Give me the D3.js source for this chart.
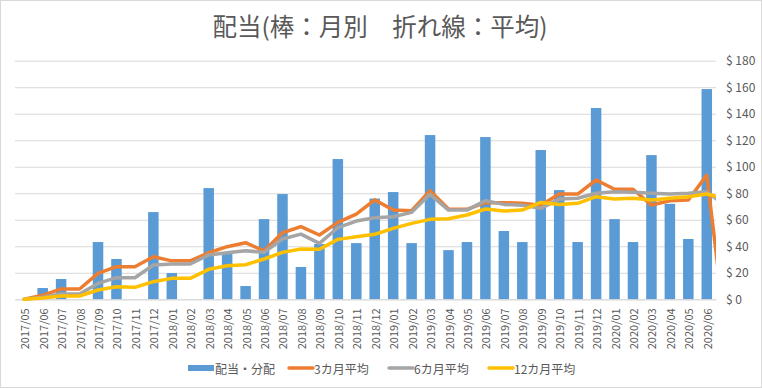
<!DOCTYPE html>
<html><head><meta charset="utf-8">
<script src="https://cdn.jsdelivr.net/npm/d3@7"></script>
<style>body{margin:0;background:#fff}svg{display:block}</style>
</head><body><svg id="c" width="762" height="388"></svg>
<script>
const categories = ["2017/05","2017/06","2017/07","2017/08","2017/09","2017/10","2017/11","2017/12",
  "2018/01","2018/02","2018/03","2018/04","2018/05","2018/06","2018/07","2018/08","2018/09","2018/10","2018/11","2018/12",
  "2019/01","2019/02","2019/03","2019/04","2019/05","2019/06","2019/07","2019/08","2019/09","2019/10","2019/11","2019/12",
  "2020/01","2020/02","2020/03","2020/04","2020/05","2020/06"];
const dividends = [0,8.5,15.3,0,43.2,30.4,0,65.8,19.8,0,83.9,35,10,60.5,79.4,24.4,41.7,105.8,42.4,76,
  80.9,42.4,123.9,37.1,43.2,122.4,51.5,43.2,112.6,82.4,43.2,144.3,60.5,43.2,108.8,72,45.5,158.6];
// averages include one trailing point (next month) that runs off the plot edge
const avg3 = [0,3,7.8,7.8,19.6,24.6,24.6,32.1,29,29,35.1,39.7,42.7,36.5,50.2,54.8,48.5,58,64.3,75,
  67.3,66.8,81.9,68.1,67.9,72.9,72.9,72.4,70.9,79.4,79.4,90,83,83,71.1,74.4,74.9,93.7,-22];
const avg6 = [0,1.5,4,4,12,16.3,16.3,25.9,26.6,26.6,33.4,35.1,36.7,35.4,45.5,49.2,42.2,54,59,61.5,
  62.3,65.6,79.2,67.3,67.3,74.4,71.6,70.9,68.6,75.6,76.2,80,81.1,80.7,80,79.4,80,81.1,71];
const avg12 = [0,1,2.5,2.5,7,9.5,9,13.3,15.8,15.8,22.6,25.3,26.1,30.4,35.4,37.9,37.7,45.2,47.2,49,
  53.5,57.3,60.3,60.8,63.6,68.1,66.6,67.3,73.1,71.6,72.4,77.4,75.6,76.2,74.9,76.2,77.4,79.4,76];
const yTicks = [0,20,40,60,80,100,120,140,160,180];
const seriesNames = ["配当・分配","3カ月平均","6カ月平均","12カ月平均"];
const colors = ["#5B9BD5","#ED7D31","#A5A5A5","#FFC000"];
const title = "配当(棒：月別　折れ線：平均)";

const FONT = "'Noto Sans CJK JP','Noto Sans',sans-serif";
const svg = d3.select("#c");
const L = 15, R = 716, T = 60.7, B = 299.3;

svg.append("rect").attr("x",0.5).attr("y",0.5).attr("width",761).attr("height",387)
  .attr("fill","#fff").attr("stroke","#d9d9d9");

const x = d3.scaleBand().domain(categories).range([L,R]).paddingInner(0).paddingOuter(0);
const step = x.step();
const xi = d3.scaleLinear().domain([0, categories.length]).range([L,R]);
const y = d3.scaleLinear().domain([0,180]).range([B,T]);

// gridlines
const yAxis = d3.axisRight(y).tickValues(yTicks).tickSize(-(R-L)).tickFormat(d => "$ " + d).tickPadding(10);
const ga = svg.append("g").attr("transform",`translate(${R},0)`).call(yAxis);
ga.select(".domain").remove();
ga.selectAll(".tick line").attr("stroke","#d9d9d9").attr("stroke-width",1);
ga.selectAll(".tick text").attr("fill","#595959").attr("font-size",12).attr("font-family",FONT).attr("x",10);

// bars
const bw = step * 0.57;
svg.append("g").selectAll("rect").data(dividends).join("rect")
  .attr("x",(d,i)=> x(categories[i]) + (step-bw)/2)
  .attr("width",bw)
  .attr("y",d=>y(d)).attr("height",d=>y(0)-y(d))
  .attr("fill",colors[0]);

// x axis
const xAxis = d3.axisBottom(x).tickSize(0).tickPadding(0);
const gx = svg.append("g").attr("transform",`translate(0,${B})`).call(xAxis);
gx.select(".domain").attr("stroke","#d9d9d9");
gx.selectAll(".tick text")
  .attr("fill","#595959").attr("font-size",11).attr("font-family",FONT)
  .attr("text-anchor","end").attr("dominant-baseline","central")
  .attr("transform","translate(0,9) rotate(-90)").attr("x",0).attr("y",0).attr("dy",null);

// lines
svg.append("clipPath").attr("id","plotclip").append("rect")
  .attr("x",L).attr("y",0).attr("width",R-L).attr("height",388);
const line = d3.line().x((d,i)=> xi(i+0.5)).y(d=>y(d));
const lg = svg.append("g").attr("clip-path","url(#plotclip)");
[avg3, avg6, avg12].forEach((s,k)=>{
  lg.append("path").datum(s).attr("d",line).attr("fill","none")
    .attr("stroke",colors[k+1]).attr("stroke-width",3.5)
    .attr("stroke-linejoin","round").attr("stroke-linecap","round");
});

// title
svg.append("text").attr("x",380).attr("y",36).attr("text-anchor","middle")
  .attr("font-size",24.5).attr("font-family",FONT).attr("fill","#595959").text(title);

// legend
const legX = [188, 287, 387, 487];
const legY = 368;
seriesNames.forEach((n,k)=>{
  const g = svg.append("g").attr("transform",`translate(${legX[k]},${legY})`);
  if(k===0){
    g.append("rect").attr("x",0).attr("y",-3).attr("width",26).attr("height",6).attr("fill",colors[0]);
  } else {
    g.append("line").attr("x1",2).attr("x2",26).attr("y1",0).attr("y2",0)
      .attr("stroke",colors[k]).attr("stroke-width",3.5).attr("stroke-linecap","round");
  }
  g.append("text").attr("x",27).attr("y",0).attr("dominant-baseline","central")
    .attr("font-size",12).attr("font-family",FONT).attr("fill","#595959").text(n);
});
</script>
</body></html>
